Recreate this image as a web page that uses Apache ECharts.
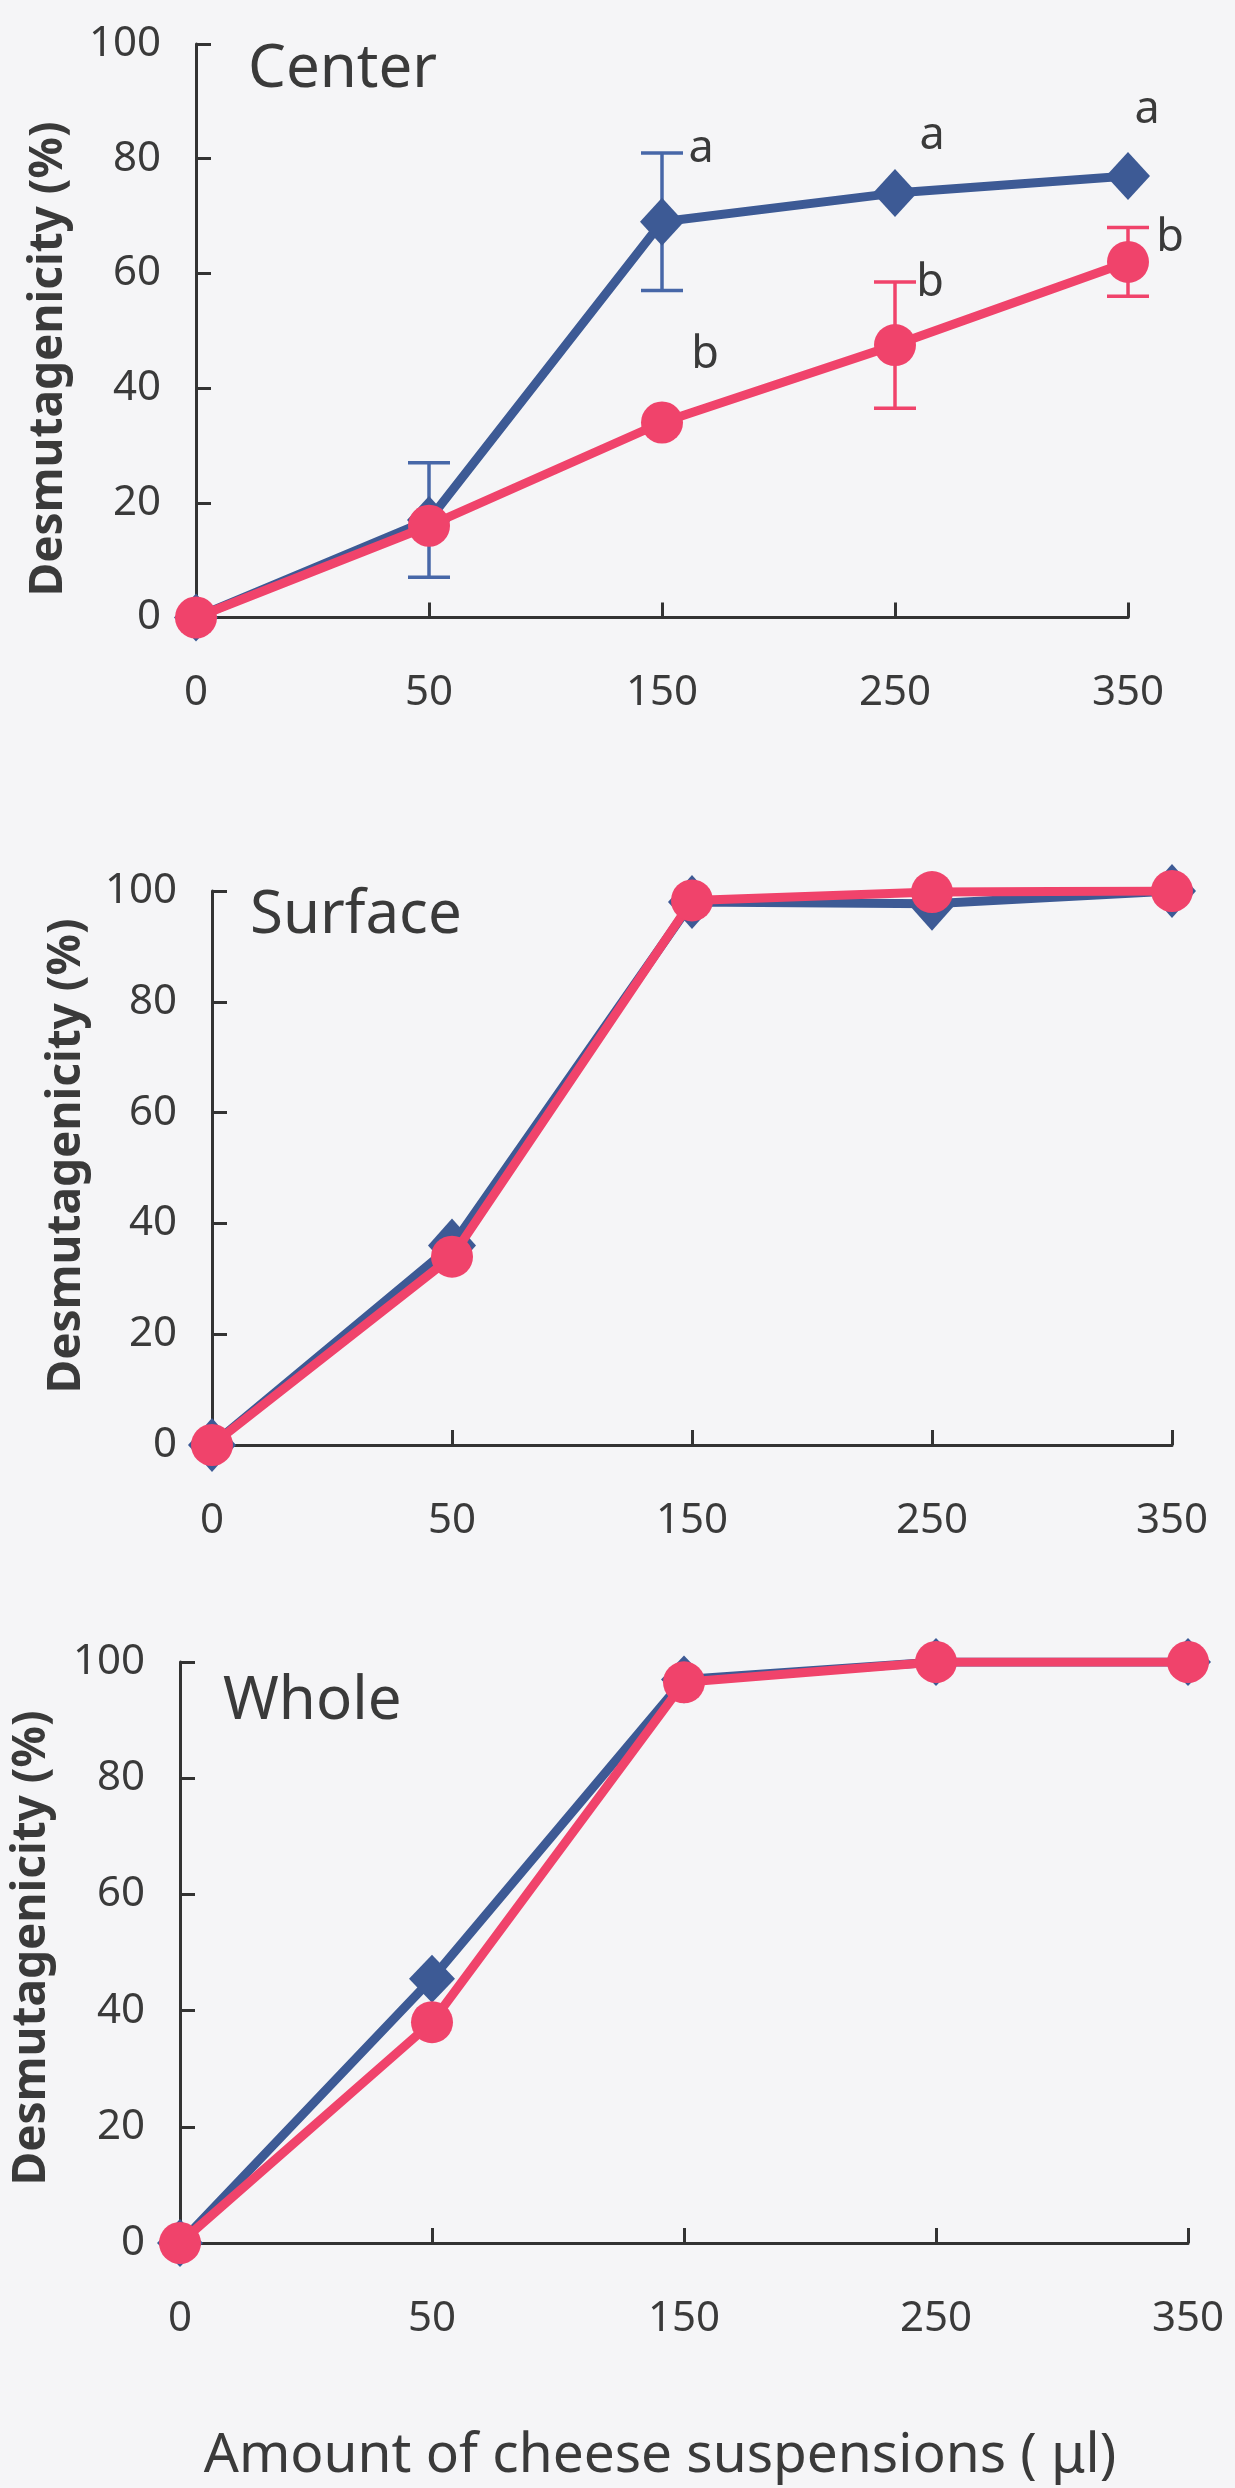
<!DOCTYPE html>
<html>
<head>
<meta charset="utf-8">
<script src="https://cdn.jsdelivr.net/npm/echarts@6/dist/echarts.min.js"></script>
<style>
html,body{margin:0;padding:0;background:#f5f5f7;}
#c{width:1235px;height:2488px;}
</style>
</head>
<body>
<div id="c"></div>
<script>
// ---------- data ----------
const categories = ['0', '50', '150', '250', '350'];
const panelNames = ['Center', 'Surface', 'Whole'];

const centerBlue    = [0, 17, 69, 74, 77];
const centerBlueErr = [0, 10, 12, 0, 0];
const centerRed     = [0, 16, 34, 47.5, 62];
const centerRedErr  = [0, 0, 0, 11, 6];

const surfaceBlue = [0, 36, 98, 97.7, 100];
const surfaceRed  = [0, 34, 98.3, 99.8, 100];

const wholeBlue = [0, 45.5, 97, 100, 100];
const wholeRed  = [0, 38, 96.5, 100, 100];

const letterText = ['a', 'a', 'a', 'b', 'b', 'b'];
const letterCat  = ['150', '250', '350', '150', '250', '350'];
const letterY    = [81.6, 83.9, 88.5, 45.8, 58.3, 66.1];

const yTitle = 'Desmutagenicity (%)';
const xTitle = 'Amount of cheese suspensions ( μl)';

// ---------- style ----------
const FONT = 'Noto Sans';
const BLUE = '#3d5a95';
const BLUE_ERR = '#4767a8';
const RED = '#f0436b';
const AXIS = '#333333';
const TEXT = '#3a3a3a';
const letterDx = [39, 37, 19, 43, 35, 42];

const grids = [
  {left: 196, top: 44, width: 932, height: 573.5},
  {left: 212, top: 891, width: 960, height: 554},
  {left: 180, top: 1662, width: 1008, height: 581}
];
const titlePos = [[248, 70], [250, 916], [223, 1702]];
const yTitlePos = [[49, 359], [67, 1156], [32, 1948]];

function xAxisFor(i) {
  return {
    type: 'category', gridIndex: i, data: categories, boundaryGap: false,
    axisLine: {lineStyle: {color: AXIS, width: 3}},
    axisTick: {inside: true, length: 15, alignWithLabel: true, lineStyle: {color: AXIS, width: 3}},
    axisLabel: {margin: 55, fontSize: 42, color: TEXT, fontFamily: FONT},
    splitLine: {show: false}
  };
}
function yAxisFor(i) {
  return {
    type: 'value', gridIndex: i, min: 0, max: 100, interval: 20,
    axisLine: {show: true, lineStyle: {color: AXIS, width: 3}},
    axisTick: {show: true, inside: true, length: 15, lineStyle: {color: AXIS, width: 3}},
    axisLabel: {margin: 35, fontSize: 42, color: TEXT, fontFamily: FONT},
    splitLine: {show: false}
  };
}

function errSeries(i, vals, errs, color) {
  const data = [];
  vals.forEach((v, k) => { if (errs[k] > 0) data.push([k, v, errs[k]]); });
  return {
    type: 'custom', xAxisIndex: i, yAxisIndex: i, z: 1,
    renderItem: function (params, api) {
      const x = api.value(0), y = api.value(1), e = api.value(2);
      const t = api.coord([x, y + e]);
      const b = api.coord([x, y - e]);
      const hw = 21;
      const st = {stroke: color, lineWidth: 3.5};
      return {type: 'group', children: [
        {type: 'line', shape: {x1: t[0], y1: t[1], x2: b[0], y2: b[1]}, style: st},
        {type: 'line', shape: {x1: t[0] - hw, y1: t[1], x2: t[0] + hw, y2: t[1]}, style: st},
        {type: 'line', shape: {x1: b[0] - hw, y1: b[1], x2: b[0] + hw, y2: b[1]}, style: st}
      ]};
    },
    data: data
  };
}

function lineSeries(i, vals, color, symbol, size, z) {
  return {
    type: 'line', xAxisIndex: i, yAxisIndex: i, data: vals, z: z,
    symbol: symbol, symbolSize: size, showSymbol: true,
    lineStyle: {color: color, width: 9},
    itemStyle: {color: color, borderWidth: 0},
    animation: false
  };
}

const letterSeries = {
  type: 'custom', xAxisIndex: 0, yAxisIndex: 0, z: 5,
  renderItem: function (params, api) {
    const k = params.dataIndex;
    const p = api.coord([api.value(0), api.value(1)]);
    return {type: 'text', x: p[0] + letterDx[k], y: p[1],
      style: {text: letterText[k], fill: TEXT, font: '45px "' + FONT + '"', align: 'center', verticalAlign: 'middle'}};
  },
  data: letterCat.map((c, k) => [categories.indexOf(c), letterY[k]])
};

const graphics = [];
panelNames.forEach((n, i) => {
  graphics.push({type: 'text', x: titlePos[i][0], y: titlePos[i][1],
    style: {text: n, fill: TEXT, font: '60px "' + FONT + '"', align: 'left', verticalAlign: 'middle'}});
  graphics.push({type: 'text', x: yTitlePos[i][0], y: yTitlePos[i][1], rotation: Math.PI / 2,
    style: {text: yTitle, fill: TEXT, font: 'bold 46px "' + FONT + '"', align: 'center', verticalAlign: 'middle'}});
});
graphics.push({type: 'text', x: 660, y: 2456,
  style: {text: xTitle, fill: TEXT, font: '55px "' + FONT + '"', align: 'center', verticalAlign: 'middle'}});

const chart = echarts.init(document.getElementById('c'), null, {renderer: 'canvas'});
chart.setOption({
  backgroundColor: '#f5f5f7',
  animation: false,
  grid: grids,
  xAxis: [xAxisFor(0), xAxisFor(1), xAxisFor(2)],
  yAxis: [yAxisFor(0), yAxisFor(1), yAxisFor(2)],
  graphic: graphics,
  series: [
    errSeries(0, centerBlue, centerBlueErr, BLUE_ERR),
    errSeries(0, centerRed, centerRedErr, RED),
    lineSeries(0, centerBlue, BLUE, 'diamond', [44, 48], 2),
    lineSeries(0, centerRed, RED, 'circle', 42, 3),
    letterSeries,
    lineSeries(1, surfaceBlue, BLUE, 'diamond', [48, 54], 2),
    lineSeries(1, surfaceRed, RED, 'circle', 42, 3),
    lineSeries(2, wholeBlue, BLUE, 'diamond', [46, 48], 2),
    lineSeries(2, wholeRed, RED, 'circle', 42, 3)
  ]
});
</script>
</body>
</html>
